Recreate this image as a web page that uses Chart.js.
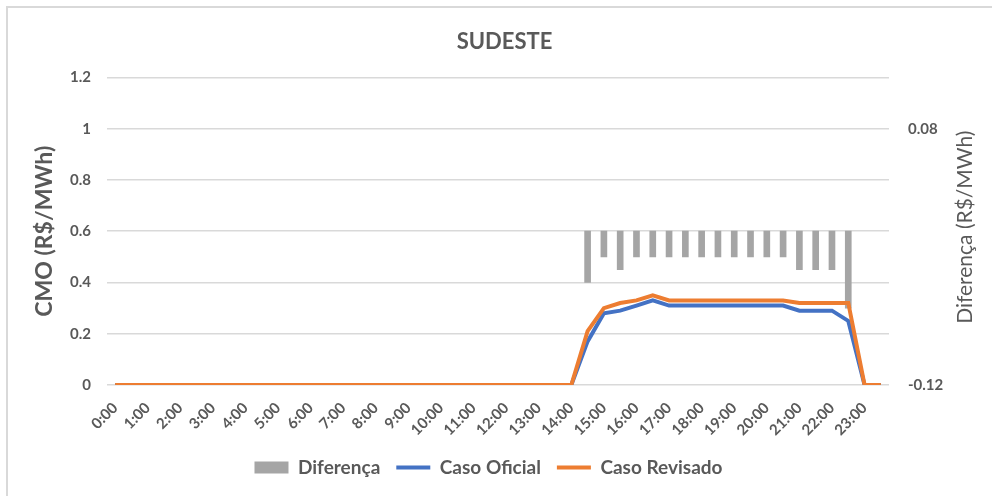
<!DOCTYPE html>
<html>
<head>
<meta charset="utf-8">
<script src="https://cdn.jsdelivr.net/npm/chart.js@4/dist/chart.umd.min.js"></script>
<style>
  html, body { margin: 0; padding: 0; background: #fff; }
  #wrap { position: relative; width: 992px; height: 496px; }
  #frame { position: absolute; left: 6px; top: 6px; width: 1000px; height: 500px; border: 2px solid #d9d9d9; box-sizing: border-box; pointer-events: none; }
</style>
</head>
<body>
<div id="wrap">
  <canvas id="chart" width="992" height="496"></canvas>
  <div id="frame"></div>
</div>
<script>
// half-hourly steps
const times = [
  '0:00', '0:30', '1:00', '1:30', '2:00', '2:30', '3:00', '3:30',
  '4:00', '4:30', '5:00', '5:30', '6:00', '6:30', '7:00', '7:30',
  '8:00', '8:30', '9:00', '9:30', '10:00', '10:30', '11:00', '11:30',
  '12:00', '12:30', '13:00', '13:30', '14:00', '14:30', '15:00', '15:30',
  '16:00', '16:30', '17:00', '17:30', '18:00', '18:30', '19:00', '19:30',
  '20:00', '20:30', '21:00', '21:30', '22:00', '22:30', '23:00', '23:30'
];

const casoOficial = [
  0, 0, 0, 0, 0, 0, 0, 0, 0, 0, 0, 0, 0, 0, 0, 0,
  0, 0, 0, 0, 0, 0, 0, 0, 0, 0, 0, 0, 0, 0.17, 0.28, 0.29,
  0.31, 0.33, 0.31, 0.31, 0.31, 0.31, 0.31, 0.31, 0.31, 0.31, 0.29, 0.29, 0.29, 0.25, 0, 0
];

const casoRevisado = [
  0, 0, 0, 0, 0, 0, 0, 0, 0, 0, 0, 0, 0, 0, 0, 0,
  0, 0, 0, 0, 0, 0, 0, 0, 0, 0, 0, 0, 0, 0.21, 0.30, 0.32,
  0.33, 0.35, 0.33, 0.33, 0.33, 0.33, 0.33, 0.33, 0.33, 0.33, 0.32, 0.32, 0.32, 0.32, 0, 0
];

// no bar where both cases match
const diferenca = [
  null, null, null, null, null, null, null, null, null, null, null, null, null, null, null, null,
  null, null, null, null, null, null, null, null, null, null, null, null, null, -0.04, -0.02, -0.03,
  -0.02, -0.02, -0.02, -0.02, -0.02, -0.02, -0.02, -0.02, -0.02, -0.02, -0.03, -0.03, -0.03, -0.06, null, null
];

const rightTicks = [-0.12, 0.08];

const textColor = '#595959';
const fontFamily = 'Lato, "Open Sans", sans-serif';

// right axis title reads bottom-to-top like the original
const rightTitlePlugin = {
  id: 'rightTitle',
  afterLayout(chart) {
    // legend sits a little left of centre in the original
    chart.legend.left -= 16;
    chart.legend.right -= 16;
  },
  afterDraw(chart) {
    const ctx = chart.ctx;
    const area = chart.chartArea;
    ctx.save();
    ctx.translate(965, (area.top + area.bottom) / 2 - 4);
    ctx.rotate(-Math.PI / 2);
    ctx.font = '21px ' + fontFamily;
    ctx.fillStyle = textColor;
    ctx.textAlign = 'center';
    ctx.textBaseline = 'middle';
    ctx.fillText('Diferença (R$/MWh)', 0, 0);
    ctx.restore();
  }
};

const ctx = document.getElementById('chart').getContext('2d');

new Chart(ctx, {
  type: 'bar',
  data: {
    labels: times,
    datasets: [
      {
        type: 'bar',
        label: 'Diferença',
        data: diferenca,
        yAxisID: 'y1',
        backgroundColor: '#a5a5a5',
        borderWidth: 0,
        barThickness: 6,
        order: 3
      },
      {
        type: 'line',
        label: 'Caso Oficial',
        data: casoOficial,
        yAxisID: 'y',
        borderColor: '#4472c4',
        backgroundColor: '#4472c4',
        borderWidth: 4,
        pointRadius: 0,
        tension: 0,
        order: 2
      },
      {
        type: 'line',
        label: 'Caso Revisado',
        data: casoRevisado,
        yAxisID: 'y',
        borderColor: '#ed7d31',
        backgroundColor: '#ed7d31',
        borderWidth: 4,
        pointRadius: 0,
        tension: 0,
        order: 1
      }
    ]
  },
  options: {
    responsive: false,
    animation: false,
    layout: {
      padding: { left: 17, right: 0, top: 0, bottom: 9 }
    },
    plugins: {
      title: {
        display: true,
        text: 'SUDESTE',
        color: textColor,
        font: { family: fontFamily, size: 22, weight: 'bold' },
        padding: { top: 29, bottom: 22 }
      },
      legend: {
        position: 'bottom',
        labels: {
          color: textColor,
          font: { family: fontFamily, size: 19, weight: 'bold' },
          usePointStyle: true,
          pointStyleWidth: 34,
          boxHeight: 12,
          padding: 16,
          sort: (a, b) => a.datasetIndex - b.datasetIndex,
          generateLabels(chart) {
            const items = Chart.defaults.plugins.legend.labels.generateLabels(chart);
            items.forEach(item => {
              item.pointStyle = item.datasetIndex === 0 ? 'rect' : 'line';
            });
            return items;
          }
        }
      },
      tooltip: { enabled: false }
    },
    scales: {
      x: {
        offset: true,
        grid: { display: false },
        border: { display: false },
        ticks: {
          color: textColor,
          font: { family: fontFamily, size: 15, weight: 'bold' },
          autoSkip: false,
          minRotation: 45,
          maxRotation: 45,
          padding: 6,
          callback: function (value, index) {
            return index % 2 === 0 ? this.getLabelForValue(value) : '';
          }
        },
        afterFit(scale) { scale.height = 57; }
      },
      y: {
        position: 'left',
        min: 0,
        max: 1.2,
        grid: { color: '#d9d9d9', lineWidth: 1.5, drawTicks: false },
        border: { display: false },
        ticks: {
          stepSize: 0.2,
          color: textColor,
          font: { family: fontFamily, size: 15, weight: 'bold' },
          padding: 16,
          callback: v => String(+v.toFixed(1))
        },
        title: {
          display: true,
          text: 'CMO (R$/MWh)',
          color: textColor,
          font: { family: fontFamily, size: 23, weight: 'bold' },
          padding: { top: 14, bottom: 0 }
        },
        afterFit(scale) { scale.width = 90; }
      },
      y1: {
        position: 'right',
        min: -0.12,
        max: 0.12,
        grid: { display: false, drawTicks: false },
        border: { display: false },
        afterBuildTicks(scale) {
          scale.ticks = rightTicks.map(v => ({ value: v }));
        },
        ticks: {
          color: textColor,
          font: { family: fontFamily, size: 15, weight: 'bold' },
          padding: 19,
          callback: v => v.toFixed(2)
        },
        afterFit(scale) { scale.width = 103; }
      }
    }
  },
  plugins: [rightTitlePlugin]
});
</script>
</body>
</html>
